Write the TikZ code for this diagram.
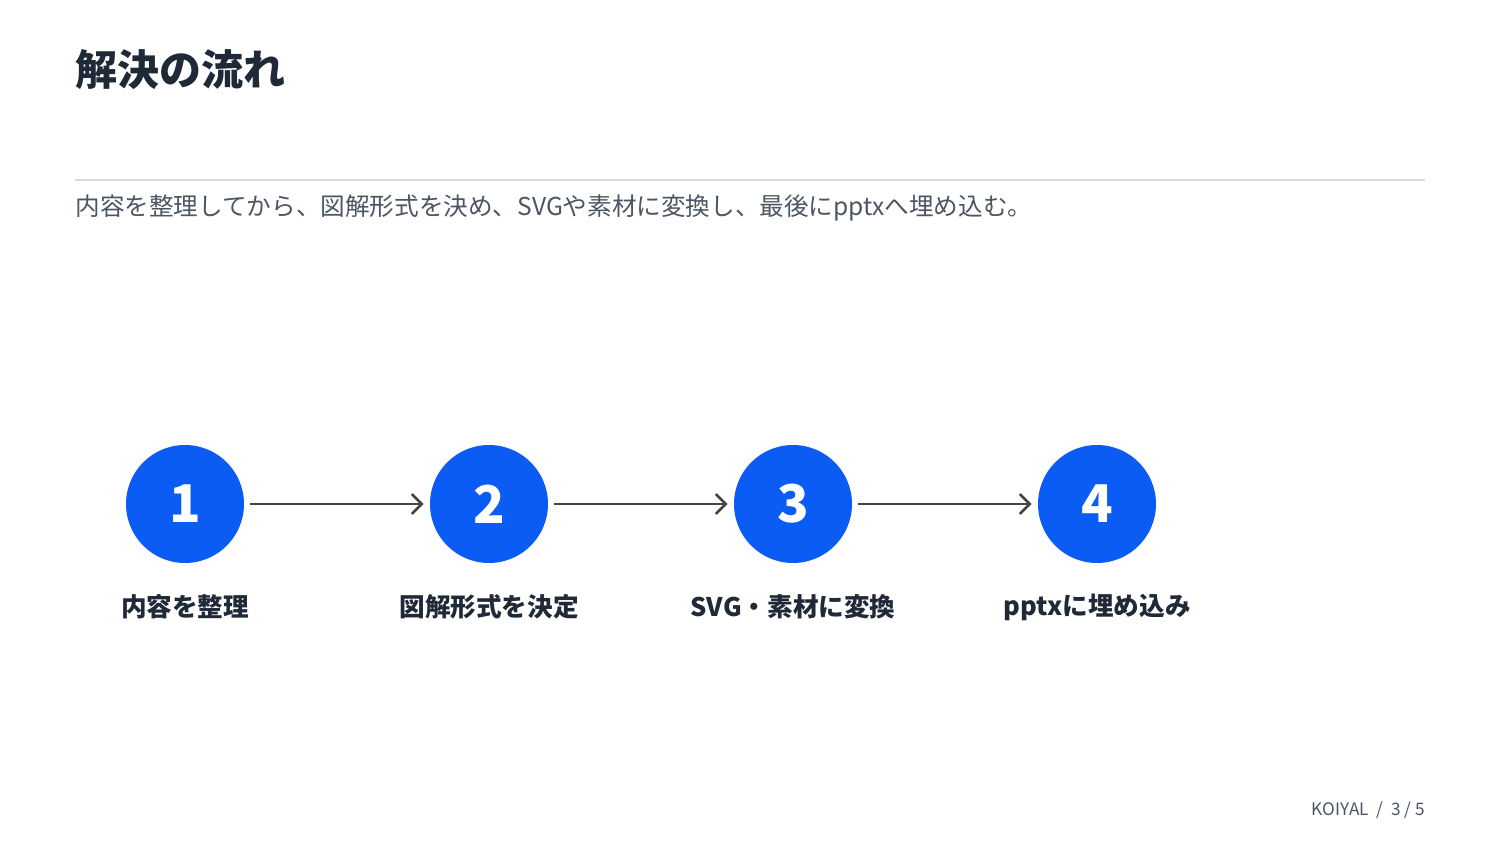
\documentclass[tikz,border=0pt]{standalone}
\usepackage{fontspec}
\setmainfont{Noto Sans CJK JP}
\usetikzlibrary{arrows.meta,positioning}
\definecolor{stepblue}{HTML}{0A5CF5}
\definecolor{inkdark}{HTML}{1F2937}
\definecolor{inkgray}{HTML}{4B5563}
\definecolor{flowgray}{HTML}{454545}
\tikzset{
  stepdot/.style={circle,fill=stepblue,minimum size=59pt,inner sep=0pt,text=white,font=\bfseries\fontsize{26}{26}\selectfont},
  steplabel/.style={text=inkdark,font=\bfseries\fontsize{12.8}{12.8}\selectfont},
  flow/.style={draw=flowgray,line width=1.3pt,-{Straight Barb[length=5pt,width=10pt,line width=1.3pt]}}
}
\begin{document}
\begin{tikzpicture}[x=0.5pt,y=-0.5pt]
\useasboundingbox (0,0) rectangle (1500,844);
% heading
\node[anchor=west,text=inkdark,font=\bfseries\fontsize{21}{21}\selectfont,inner sep=0pt] (title) at (75,70) {解決の流れ};
\draw[draw=black!15,line width=0.8pt] (75,180) -- (1425,180);
\node[anchor=west,text=inkgray,font=\fontsize{12.3}{12.3}\selectfont,inner sep=0pt] (lead) at (75,208) {内容を整理してから、図解形式を決め、SVGや素材に変換し、最後にpptxへ埋め込む。};
% steps
\node[stepdot] (s1) at (185,504) {1};
\node[stepdot] (s2) at (489,504) {2};
\node[stepdot] (s3) at (793,504) {3};
\node[stepdot] (s4) at (1097,504) {4};
\node[steplabel] (l1) at (185,607) {内容を整理};
\node[steplabel] (l2) at (489,607) {図解形式を決定};
\node[steplabel] (l3) at (793,607) {SVG・素材に変換};
\node[steplabel] (l4) at (1097,607) {pptxに埋め込み};
\draw[flow] ([xshift=3pt]s1.east) -- ([xshift=-3pt]s2.west);
\draw[flow] ([xshift=3pt]s2.east) -- ([xshift=-3pt]s3.west);
\draw[flow] ([xshift=3pt]s3.east) -- ([xshift=-3pt]s4.west);
% footer
\node[anchor=east,text=inkgray,font=\fontsize{8.6}{8.6}\selectfont,inner sep=0pt] (foot) at (1425,810) {KOIYAL\ \ /\ \ 3 / 5};
\end{tikzpicture}
\end{document}
